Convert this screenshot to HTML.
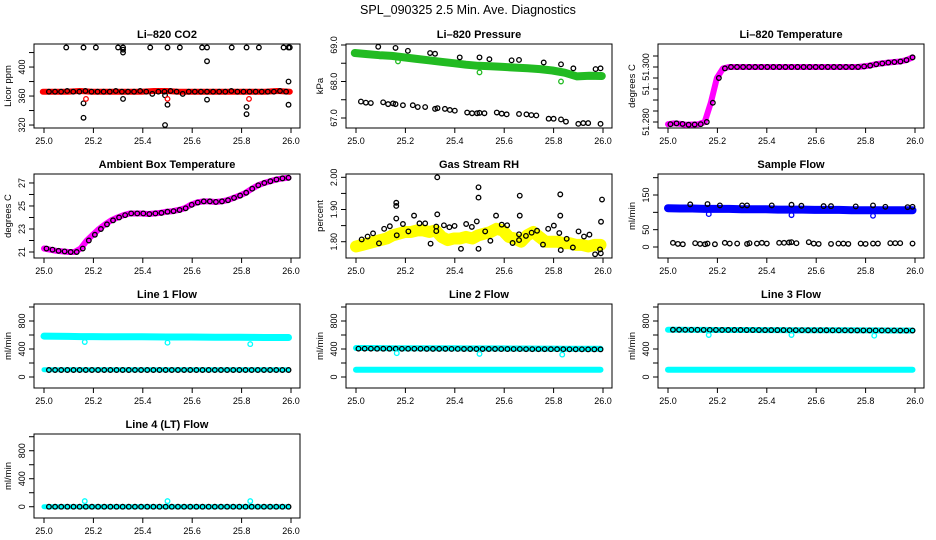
<!DOCTYPE html>
<html><head><meta charset="utf-8">
<style>
html,body{margin:0;padding:0;background:#fff;}
svg{display:block;font-family:"Liberation Sans",sans-serif;}
</style></head>
<body>
<svg id="chart" width="936" height="540" viewBox="0 0 936 540" xmlns="http://www.w3.org/2000/svg">
<rect x="0" y="0" width="936" height="540" fill="#fff"/>
<text x="468" y="14" font-size="12.5" text-anchor="middle">SPL_090325  2.5 Min. Ave. Diagnostics</text>
</svg>
<script>
// ---------- data ----------
const xTicks = [25.0, 25.2, 25.4, 25.6, 25.8, 26.0];
const xTickLabels = ["25.0", "25.2", "25.4", "25.6", "25.8", "26.0"];

// Li-820 CO2
const co2Band = [366,366,366,367,366,366,366,366,366,367,367,366,366,366,366,366,366,366,366,367,366];
const co2Main = [366,366,366,367,366,366,367,366,366,366,366,367,366,366,366,367,366,363,366,366,367,366,363,366,366,366,366,366,366,366,367,366,366,366,366,366,366,366,367,366];
const co2OutT = [25.09,25.16,25.21,25.30,25.32,25.32,25.43,25.50,25.55,25.64,25.66,25.76,25.82,25.87,25.97,25.99,25.995,25.66,25.32,25.16,25.16,25.32,25.49,25.50,25.49,25.82,25.82,25.99,25.99,25.66];
const co2OutV = [427,427,427,427,427,424,427,427,427,427,427,427,427,427,427,427,427,408,420,350,330,356,361,348,320,345,335,380,348,355];
const co2RedT = [25.17,25.50,25.83];
const co2RedV = [356,356,356];
const co2Ticks = [320,340,360,380,400,420];
const co2Labels = ["320","","360","","400",""];

// Li-820 Pressure
const presBand = [68.78,68.75,68.72,68.70,68.66,68.62,68.58,68.54,68.50,68.46,68.43,68.42,68.40,68.38,68.36,68.34,68.30,68.24,68.14,68.16,68.15];
const presUpT = [25.09,25.16,25.21,25.30,25.32,25.42,25.50,25.54,25.63,25.66,25.76,25.83,25.88,25.97,25.99];
const presUpV = [68.95,68.92,68.84,68.78,68.76,68.66,68.66,68.61,68.58,68.59,68.52,68.47,68.36,68.34,68.36];
const presLoT = [25.02,25.04,25.06,25.11,25.13,25.15,25.16,25.19,25.23,25.25,25.28,25.32,25.33,25.36,25.38,25.40,25.45,25.47,25.49,25.50,25.52,25.57,25.59,25.61,25.66,25.69,25.71,25.73,25.78,25.80,25.83,25.85,25.90,25.92,25.94,25.99];
const presLoV = [67.45,67.42,67.41,67.43,67.38,67.40,67.38,67.35,67.35,67.30,67.30,67.25,67.27,67.25,67.22,67.20,67.15,67.13,67.13,67.14,67.13,67.15,67.12,67.10,67.11,67.10,67.08,67.07,66.98,66.98,66.96,66.90,66.84,66.86,66.86,66.84];
const presGrT = [25.17,25.50,25.83];
const presGrV = [68.55,68.25,68.00];
const presTicks = [67.0,67.5,68.0,68.5,69.0];
const presLabels = ["67.0","","68.0","","69.0"];

// Li-820 Temperature (41 samples, 25.0..26.0)
const ltemp = [51.2792,51.2795,51.2793,51.2790,51.2791,51.2792,51.2800,51.2870,51.2960,51.2995,
 51.3000,51.3000,51.3000,51.3000,51.3000,51.3000,51.3000,51.3000,51.3000,51.3000,51.3000,
 51.3000,51.3000,51.3000,51.3000,51.3000,51.3000,51.3000,51.3000,51.3000,51.3000,51.3000,
 51.3002,51.3005,51.3010,51.3013,51.3016,51.3018,51.3020,51.3025,51.3035];
const ltTicks = [51.280,51.284,51.288,51.292,51.296,51.300,51.304];
const ltLabels = ["51.280","","","51.","","51.300",""];

// Ambient box temperature (41 samples)
const ambient = [21.3,21.2,21.1,21.05,21.0,21.0,21.3,22.0,22.5,23.0,23.4,23.75,24.0,24.2,24.35,24.35,24.35,24.3,24.35,24.4,24.5,24.55,24.65,24.8,25.1,25.3,25.4,25.4,25.35,25.4,25.5,25.7,25.9,26.15,26.5,26.8,27.0,27.15,27.3,27.4,27.45];
const ambTicks = [21,22,23,24,25,26,27];
const ambLabels = ["21","","23","","25","","27"];

// Gas stream RH
const rhBand = [1.785,1.79,1.795,1.80,1.805,1.81,1.82,1.825,1.83,1.83,1.835,1.835,1.83,1.835,1.815,1.805,1.81,1.81,1.815,1.81,1.82,1.825,1.83,1.84,1.835,1.815,1.81,1.80,1.82,1.83,1.815,1.80,1.80,1.80,1.795,1.795,1.79,1.79,1.785,1.79,1.79];
const rhT = [25.023,25.047,25.069,25.093,25.114,25.137,25.163,25.163,25.163,25.165,25.190,25.212,25.235,25.257,25.280,25.302,25.325,25.325,25.329,25.329,25.356,25.378,25.399,25.425,25.446,25.469,25.489,25.496,25.496,25.496,25.523,25.544,25.567,25.590,25.612,25.634,25.660,25.660,25.663,25.663,25.688,25.711,25.733,25.757,25.778,25.801,25.823,25.827,25.827,25.829,25.853,25.878,25.901,25.923,25.945,25.968,25.988,25.991,25.992,25.996];
const rhV = [1.807,1.816,1.826,1.795,1.840,1.848,1.872,1.911,1.921,1.820,1.855,1.832,1.881,1.857,1.857,1.794,1.847,1.833,1.885,2.000,1.851,1.845,1.849,1.778,1.855,1.846,1.863,1.937,1.969,1.778,1.832,1.803,1.881,1.853,1.851,1.796,1.823,1.805,1.881,1.943,1.818,1.828,1.834,1.791,1.840,1.850,1.827,1.881,1.947,1.774,1.809,1.782,1.832,1.816,1.822,1.761,1.776,1.764,1.862,1.931];
const rhTicks = [1.80,1.85,1.90,1.95,2.00];
const rhLabels = ["1.80","","1.90","","2.00"];

// Sample flow
const sfBand = [112,111,111,110,110,110,109,109,109,108,108,108,107,107,107,106,106,106,106,106,106];
const sfUpV = [123,124,120,120,120,120,122,119,118,118,117,120,116,115,116];
const sfLoV = [12,9,8,11,9,8,10,8,12,10,10,9,11,10,12,10,12,12,13,14,11,14,10,9,9,10,10,9,10,9,10,10,11,11,11,10];
const sfBlT = [25.165,25.50,25.83];
const sfBlV = [95,92,90];
const sfTicks = [0,50,100,150,200];
const sfLabels = ["0","50","","150",""];

// Line flows
const flowTicks = [0,200,400,600,800,1000];
const flowLabels = ["0","","400","","800",""];
const l1High = [585,582,580,578,578,576,575,575,574,573,572,572,571,570,569,568,567,566,565,564,564];
const l1Low = [105,105,105,105,105,105,105,105,105,105,105,105,105,105,105,105,105,105,105,105,105];
const l1Black = [100,100,100,100,100,100,100,100,100,100,100,100,100,100,100,100,100,100,100,100,100,100,100,100,100,100,100,100,100,100,100,100,100,100,100,100,100,100,100,100];
const l1OutT = [25.165,25.50,25.835];
const l1OutV = [500,490,470];
const l2High = [415,414,413,412,412,411,411,410,410,409,409,408,408,407,407,406,406,405,405,404,404];
const l2Low = [105,105,105,105,105,105,105,105,105,105,105,105,105,105,105,105,105,105,105,105,105];
const l2Black = [405,405,405,404,404,404,404,403,403,403,403,402,402,402,402,401,401,400,400,400,400,400,400,399,399,399,399,398,398,398,398,397,397,397,396,396,396,395,395,395];
const l2OutT = [25.165,25.50,25.835];
const l2OutV = [340,330,320];
const l3High = [675,674,673,673,672,672,671,671,670,670,669,669,668,668,667,667,666,666,665,665,664];
const l3Low = [105,105,105,105,105,105,105,105,105,105,105,105,105,105,105,105,105,105,105,105,105];
const l3Black = [675,675,674,674,674,673,673,673,672,672,672,672,671,671,671,670,670,670,670,669,669,669,668,668,668,668,667,667,667,666,666,666,666,665,665,665,665,664,664,664];
const l3OutT = [25.165,25.50,25.835];
const l3OutV = [600,600,590];
const l4Band = [0,0,0,0,0,0,0,0,0,0,0,0,0,0,0,0,0,0,0,0,0];
const l4Black = [0,0,0,0,0,0,0,0,0,0,0,0,0,0,0,0,0,0,0,0,0,0,0,0,0,0,0,0,0,0,0,0,0,0,0,0,0,0,0,0];
const l4OutT = [25.165,25.50,25.835];
const l4OutV = [80,80,80];

// ---------- drawing ----------
const NS = "http://www.w3.org/2000/svg";
const svg = document.getElementById("chart");
const colLeft = [34, 346, 658];
const rowTop = [44, 174, 304, 434];
const BW = 266, BH = 84;

function mk(tag, parent, attrs) {
  const e = document.createElementNS(NS, tag);
  for (const k in attrs) e.setAttribute(k, attrs[k]);
  parent.appendChild(e);
  return e;
}

function panel(col, row, name, title, ylab, lo, hi, yt, yl) {
  const L = colLeft[col], T = rowTop[row];
  const g = mk("g", svg, {});
  
  
  const X = t => L + 10 + (t - 25) * 247;
  const Y = v => T + BH - (v - lo) / (hi - lo) * BH;
  const box = mk("rect", g, {x: L, y: T, width: BW, height: BH, fill: "none", stroke: "#000", "stroke-width": 1});
  
  
  const tt = mk("text", g, {x: L + BW / 2, y: T - 6, "font-size": 11, "font-weight": "bold", "text-anchor": "middle"});
  tt.textContent = title;
  
  
  // x axis
  const xa = mk("g", g, {});
  
  
  mk("line", xa, {x1: X(xTicks[0]), x2: X(xTicks[xTicks.length - 1]), y1: T + BH, y2: T + BH, stroke: "#000"});
  xTicks.forEach((t, i) => {
    mk("line", xa, {x1: X(t), x2: X(t), y1: T + BH, y2: T + BH + 5, stroke: "#000"});
    const lb = mk("text", xa, {x: X(t), y: T + BH + 16, "font-size": 9, "text-anchor": "middle"});
    lb.textContent = xTickLabels[i];
    
    
  });
  // y axis
  const ya = mk("g", g, {});
  
  
  mk("line", ya, {x1: L, x2: L, y1: Y(yt[0]), y2: Y(yt[yt.length - 1]), stroke: "#000"});
  yt.forEach((v, i) => {
    mk("line", ya, {x1: L - 5, x2: L, y1: Y(v), y2: Y(v), stroke: "#000"});
    if (yl[i]) {
      const lb = mk("text", ya, {x: L - 9, y: Y(v), "font-size": 9, "text-anchor": "middle", transform: `rotate(-90 ${L - 9} ${Y(v)})`});
      lb.textContent = yl[i];
      
      
    }
  });
  const yy = T + BH / 2, xx = L - 23;
  const ylt = mk("text", g, {x: xx, y: yy, "font-size": 9.5, "text-anchor": "middle", transform: `rotate(-90 ${xx} ${yy})`});
  ylt.textContent = ylab;
  
  
  const clip = mk("g", g, {});
  return {g, X, Y};
}

function band(p, vals, color, width, name, t0, t1) {
  const a = t0 === undefined ? 25 : t0, b = t1 === undefined ? 26 : t1;
  const pts = vals.map((v, i) => p.X(a + (b - a) * i / (vals.length - 1)).toFixed(1) + "," + p.Y(v).toFixed(1)).join(" ");
  const pl = mk("polyline", p.g, {points: pts, fill: "none", stroke: color, "stroke-width": width, "stroke-linejoin": "round", "stroke-linecap": "round"});
  
  
}

function pts(p, ts, vs, color, name) {
  const grp = mk("g", p.g, {});
  
  
  vs.forEach((v, i) => {
    const c = mk("circle", grp, {cx: p.X(ts[i]), cy: p.Y(v), r: 2.3, fill: "none", stroke: color, "stroke-width": 1.3});
    
    
  });
}

function even(vs, a, b) { return vs.map((v, i) => a + (b - a) * i / (vs.length - 1)); }

// Panel 1: CO2
let p = panel(0, 0, "co2", "Li\u2013820 CO2", "Licor ppm", 315.9, 431.8, co2Ticks, co2Labels);
band(p, co2Band, "#ff0000", 6, "co2-red-series", 24.995, 25.995);
pts(p, even(co2Main, 25.02, 25.98), co2Main, "#000", "co2-black-series");
pts(p, co2OutT, co2OutV, "#000", "co2-black-outliers");
pts(p, co2RedT, co2RedV, "#ff0000", "co2-red-outliers");

// Panel 2: Pressure
p = panel(1, 0, "pressure", "Li\u2013820 Pressure", "kPa", 66.726, 69.027, presTicks, presLabels);
band(p, presBand, "#22bb22", 8, "pressure-green-series", 24.995, 25.995);
pts(p, presUpT, presUpV, "#000", "pressure-upper-black-series");
pts(p, presLoT, presLoV, "#000", "pressure-lower-black-series");
pts(p, presGrT, presGrV, "#22bb22", "pressure-green-outliers");

// Panel 3: Li temp
p = panel(2, 0, "li-temp", "Li\u2013820 Temperature", "degrees C", 51.27782, 51.30836, ltTicks, ltLabels);
band(p, ltemp, "#ff00ff", 6, "li-temp-magenta-series", 25.0, 25.99);
pts(p, even(ltemp, 25.01, 25.99), ltemp, "#000", "li-temp-black-series");

// Panel 4: Ambient
p = panel(0, 1, "ambient", "Ambient Box Temperature", "degrees C", 20.478, 27.78, ambTicks, ambLabels);
band(p, ambient, "#ff00ff", 6, "ambient-magenta-series", 25.0, 25.99);
pts(p, even(ambient, 25.01, 25.99), ambient, "#000", "ambient-black-series");

// Panel 5: RH
p = panel(1, 1, "rh", "Gas Stream RH", "percent", 1.7494, 2.0103, rhTicks, rhLabels);
band(p, rhBand, "#ffff00", 12, "rh-yellow-series", 25.0, 25.99);
pts(p, rhT, rhV, "#000", "rh-black-series");

// Panel 6: Sample flow
p = panel(2, 1, "sample-flow", "Sample Flow", "ml/min", -31.7, 210.6, sfTicks, sfLabels);
band(p, sfBand, "#0000ff", 8, "sample-flow-blue-series", 25.0, 25.99);
pts(p, presUpT, sfUpV, "#000", "sample-flow-upper-black-series");
pts(p, presLoT, sfLoV, "#000", "sample-flow-lower-black-series");
pts(p, sfBlT, sfBlV, "#0000ff", "sample-flow-blue-outliers");

// Line 1
p = panel(0, 2, "line1", "Line 1 Flow", "ml/min", -157, 1043, flowTicks, flowLabels);
band(p, l1High, "#00ffff", 7, "line1-cyan-high-series", 25.0, 25.99);
band(p, l1Low, "#00ffff", 5, "line1-cyan-low-series", 25.0, 25.99);
pts(p, even(l1Black, 25.02, 25.99), l1Black, "#000", "line1-black-series");
pts(p, l1OutT, l1OutV, "#00ffff", "line1-cyan-outliers");

// Line 2
p = panel(1, 2, "line2", "Line 2 Flow", "ml/min", -157, 1043, flowTicks, flowLabels);
band(p, l2High, "#00ffff", 6, "line2-cyan-high-series", 25.0, 25.99);
band(p, l2Low, "#00ffff", 6, "line2-cyan-low-series", 25.0, 25.99);
pts(p, even(l2Black, 25.01, 25.99), l2Black, "#000", "line2-black-series");
pts(p, l2OutT, l2OutV, "#00ffff", "line2-cyan-outliers");

// Line 3
p = panel(2, 2, "line3", "Line 3 Flow", "ml/min", -157, 1043, flowTicks, flowLabels);
band(p, l3High, "#00ffff", 6, "line3-cyan-high-series", 25.0, 25.99);
band(p, l3Low, "#00ffff", 6, "line3-cyan-low-series", 25.0, 25.99);
pts(p, even(l3Black, 25.02, 25.99), l3Black, "#000", "line3-black-series");
pts(p, l3OutT, l3OutV, "#00ffff", "line3-cyan-outliers");

// Line 4
p = panel(0, 3, "line4", "Line 4 (LT) Flow", "ml/min", -161, 1039, flowTicks, flowLabels);
band(p, l4Band, "#00ffff", 5, "line4-cyan-series", 25.0, 25.99);
pts(p, even(l4Black, 25.02, 25.99), l4Black, "#000", "line4-black-series");
pts(p, l4OutT, l4OutV, "#00ffff", "line4-cyan-outliers");
</script>
</body></html>
